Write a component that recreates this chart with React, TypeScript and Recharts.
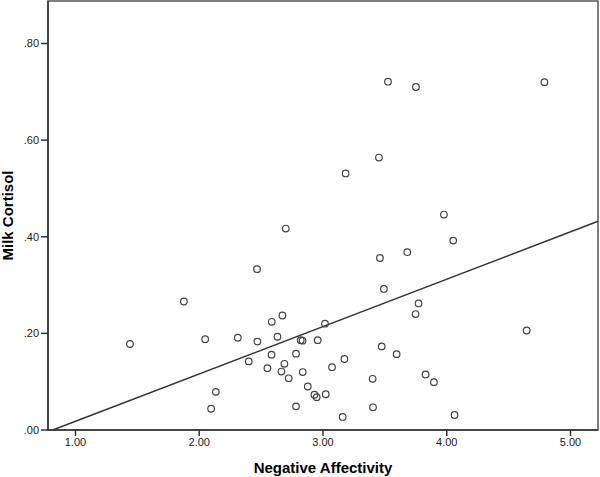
import React from "react";
import {
  ScatterChart,
  Scatter,
  XAxis,
  YAxis,
  ReferenceLine,
  ReferenceArea,
} from "recharts";

// Negative Affectivity (x) vs Milk Cortisol (y)
const affectivity = [
  1.44, 1.876, 2.048, 2.312, 2.47, 2.632, 2.586, 2.672, 3.016, 2.82, 2.835,
  2.957, 3.474, 3.595, 2.584, 2.782, 2.4, 2.688, 3.173, 3.073, 2.551, 2.664,
  2.836, 2.723, 3.401, 3.829, 3.896, 2.134, 2.877, 2.931, 2.949, 3.022, 2.096,
  2.782, 3.404, 3.159, 4.063, 2.699, 2.467, 3.46, 3.681, 3.492, 3.772, 3.748,
  3.525, 3.751, 3.452, 3.183, 4.789, 3.977, 4.052, 4.646,
];
const cortisol = [
  0.178, 0.266, 0.188, 0.191, 0.183, 0.193, 0.224, 0.237, 0.22, 0.186, 0.185,
  0.186, 0.173, 0.157, 0.156, 0.158, 0.142, 0.137, 0.147, 0.13, 0.128, 0.121,
  0.12, 0.107, 0.106, 0.115, 0.099, 0.079, 0.09, 0.073, 0.068, 0.074, 0.044,
  0.049, 0.047, 0.027, 0.031, 0.417, 0.333, 0.356, 0.368, 0.292, 0.262, 0.24,
  0.721, 0.71, 0.564, 0.531, 0.72, 0.446, 0.392, 0.206,
];

const xTicks = [1, 2, 3, 4, 5];
const yTicks = [0, 0.2, 0.4, 0.6, 0.8];
const xDomain: [number, number] = [0.778, 5.222];
const yDomain: [number, number] = [0, 0.888];

// fit line end points (clipped to the plot box)
const fitStart = { x: 0.816, y: 0 };
const fitEnd = { x: 5.222, y: 0.432 };

const points = affectivity.map((x, i) => ({ x, y: cortisol[i] }));

const INK = "#333";
const FONT = "'Liberation Sans', Arial, sans-serif";

const OpenCircle = (props: any) => {
  const { cx, cy } = props;
  if (cx == null || cy == null) return null;
  return <circle cx={cx} cy={cy} r={3.3} fill="none" stroke="#444" strokeWidth={1.2} />;
};

const fmtY = (v: number) => v.toFixed(2).replace(/^0/, "");
const fmtX = (v: number) => v.toFixed(2);

export default function App() {
  return (
    <div style={{ position: "absolute", left: 0, top: 0, background: "#fff" }}>
      <ScatterChart
        width={600}
        height={477}
        margin={{ top: 1, right: 2, left: 0, bottom: 0 }}
        style={{ fontFamily: FONT }}
      >
        <XAxis
          type="number"
          dataKey="x"
          domain={xDomain}
          ticks={xTicks}
          tickFormatter={fmtX}
          allowDataOverflow
          height={47}
          tickSize={6}
          tickMargin={2}
          axisLine={{ stroke: INK, strokeWidth: 1.5 }}
          tickLine={{ stroke: INK, strokeWidth: 1.5 }}
          tick={{ fill: "#222", fontSize: 11, fontFamily: FONT }}
          label={{
            value: "Negative Affectivity",
            position: "insideBottom",
            offset: 4,
            style: { fontWeight: "bold", fontSize: 15, fill: "#000", fontFamily: FONT },
          }}
        />
        <YAxis
          type="number"
          dataKey="y"
          domain={yDomain}
          ticks={yTicks}
          tickFormatter={fmtY}
          allowDataOverflow
          width={48}
          tickSize={7}
          tickMargin={2}
          axisLine={{ stroke: INK, strokeWidth: 1.5 }}
          tickLine={{ stroke: INK, strokeWidth: 1.5 }}
          tick={{ fill: "#222", fontSize: 11, fontFamily: FONT }}
          label={{
            value: "Milk Cortisol",
            angle: -90,
            position: "insideLeft",
            offset: 8,
            style: {
              fontWeight: "bold",
              fontSize: 15,
              fill: "#000",
              textAnchor: "middle",
              fontFamily: FONT,
            },
          }}
        />
        <ReferenceArea
          x1={xDomain[0]}
          x2={xDomain[1]}
          y1={yDomain[0]}
          y2={yDomain[1]}
          fill="none"
          stroke="#555"
          strokeWidth={1.5}
        />
        <ReferenceLine
          segment={[fitStart, fitEnd]}
          stroke={INK}
          strokeWidth={1.5}
        />
        <Scatter data={points} shape={OpenCircle} isAnimationActive={false} />
      </ScatterChart>
    </div>
  );
}
